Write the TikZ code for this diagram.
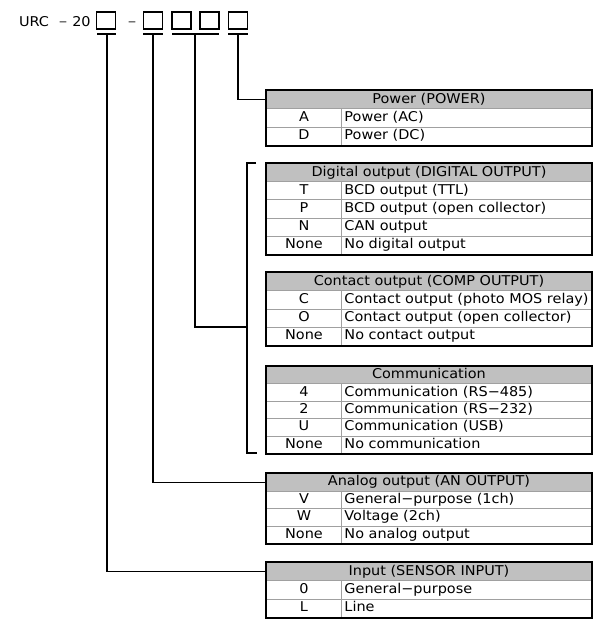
\documentclass[tikz,border=0pt]{standalone}
\usepackage{fontspec}
\setmainfont{DejaVu Sans}[FakeStretch=1.07]
\definecolor{hdrgray}{HTML}{C0C0C0}
\definecolor{linegray}{HTML}{A0A0A0}
\newcommand\tabrow[5]{%
  \node[kcell=#3] (#1k) at (266,#2) {#4};
  \node[dcell=#3] (#1d) at (341,#2) {\makebox[244pt][l]{#5}};}
\begin{document}
\begin{tikzpicture}[x=1pt,y=-1pt,
  txt/.style={font=\fontsize{13.5}{15}\selectfont, text height=9.8pt, text depth=2.8pt},
  hcell/.style={txt, draw=linegray, line width=0.9pt, fill=hdrgray, minimum width=325pt, minimum height=#1pt, anchor=north west, inner sep=0pt},
  kcell/.style={txt, draw=linegray, line width=0.9pt, minimum width=75pt, minimum height=#1pt, anchor=north west, inner sep=0pt},
  dcell/.style={txt, draw=linegray, line width=0.9pt, minimum width=250pt, minimum height=#1pt, anchor=north west, inner xsep=3pt, inner ysep=0pt},
  frame/.style={draw=black, line width=1.6pt},
  conn/.style={draw=black, line width=1.3pt},
  ibox/.style={draw=black, line width=1.2pt, minimum width=19pt, minimum height=17pt, inner sep=0pt},
  lbl/.style={font=\fontsize{13.5}{15}\selectfont, inner sep=0pt, anchor=base}]
\path[use as bounding box, fill=white] (0,0) rectangle (600,631);

% top code
\node[lbl] (urc) at (34,27) {URC};
\node[lbl, font=\fontsize{10}{12}\selectfont] (m1) at (63,26) {−};
\node[lbl] (n20) at (81.5,27) {20};
\node[ibox] (b1) at (106,20.5) {};
\node[lbl, font=\fontsize{10}{12}\selectfont] (m2) at (132,26) {−};
\node[ibox] (b2) at (153,20.5) {};
\node[ibox] (b3) at (181.5,20.5) {};
\node[ibox] (b4) at (209.5,20.5) {};
\node[ibox] (b5) at (238,20.5) {};

% underlines
\coordinate (u1a) at (97,34);  \coordinate (u1b) at (116,34);  \coordinate (u1) at (107,34);
\coordinate (u2a) at (143,34); \coordinate (u2b) at (163,34);  \coordinate (u2) at (153,34);
\coordinate (u3a) at (172,34); \coordinate (u3b) at (219,34);  \coordinate (u3) at (195,34);
\coordinate (u5a) at (228,34); \coordinate (u5b) at (248,34);  \coordinate (u5) at (238,34);
\draw[conn] (u1a) -- (u1b);
\draw[conn] (u2a) -- (u2b);
\draw[conn] (u3a) -- (u3b);
\draw[conn] (u5a) -- (u5b);

% Power table
\node[hcell=18.3] (pw) at (266,90) {Power (POWER)};
\tabrow{pwA}{108.3}{18.3}{A}{Power (AC)}
\tabrow{pwD}{126.6}{18.3}{D}{Power (DC)}
\draw[frame] (pw.north west) rectangle (pwDd.south east);

% Digital output
\node[hcell=18.2] (dg) at (266,163) {Digital output (DIGITAL OUTPUT)};
\tabrow{dgT}{181.2}{18.2}{T}{BCD output (TTL)}
\tabrow{dgP}{199.4}{18.2}{P}{BCD output (open collector)}
\tabrow{dgN}{217.6}{18.2}{N}{CAN output}
\tabrow{dgX}{235.8}{18.2}{None}{No digital output}
\draw[frame] (dg.north west) rectangle (dgXd.south east);

% Contact output
\node[hcell=18.25] (ct) at (266,272) {Contact output (COMP OUTPUT)};
\tabrow{ctC}{290.25}{18.25}{C}{Contact output (photo MOS relay)}
\tabrow{ctO}{308.5}{18.25}{O}{Contact output (open collector)}
\tabrow{ctX}{326.75}{18.25}{None}{No contact output}
\draw[frame] (ct.north west) rectangle (ctXd.south east);

% Communication
\node[hcell=17.4] (cm) at (266,366) {Communication};
\tabrow{cmF}{383.4}{17.4}{4}{Communication (RS−485)}
\tabrow{cmT}{400.8}{17.4}{2}{Communication (RS−232)}
\tabrow{cmU}{418.2}{17.4}{U}{Communication (USB)}
\tabrow{cmX}{435.6}{17.4}{None}{No communication}
\draw[frame] (cm.north west) rectangle (cmXd.south east);

% Analog output
\node[hcell=17.5] (an) at (266,473) {Analog output (AN OUTPUT)};
\tabrow{anV}{490.5}{17.5}{V}{General−purpose (1ch)}
\tabrow{anW}{508}{17.5}{W}{Voltage (2ch)}
\tabrow{anX}{525.5}{17.5}{None}{No analog output}
\draw[frame] (an.north west) rectangle (anXd.south east);

% Input
\node[hcell=18.3] (in) at (266,562) {Input (SENSOR INPUT)};
\tabrow{inZ}{580.3}{18.3}{0}{General−purpose}
\tabrow{inL}{598.6}{18.3}{L}{Line}
\draw[frame] (in.north west) rectangle (inLd.south east);

% bracket
\coordinate (brT0) at (256,163); \coordinate (brT) at (247,163);
\coordinate (brB0) at (257,453); \coordinate (brB) at (247,453);
\coordinate (brM) at (247,327);
\draw[conn] (brT0) -- (brT) -- (brB) -- (brB0);

% connectors
\draw[conn] (u5) |- (pw.west);
\draw[conn] (u3) |- (brM);
\draw[conn] (u2) |- (an.west);
\draw[conn] (u1) |- (in.west);
\end{tikzpicture}
\end{document}
